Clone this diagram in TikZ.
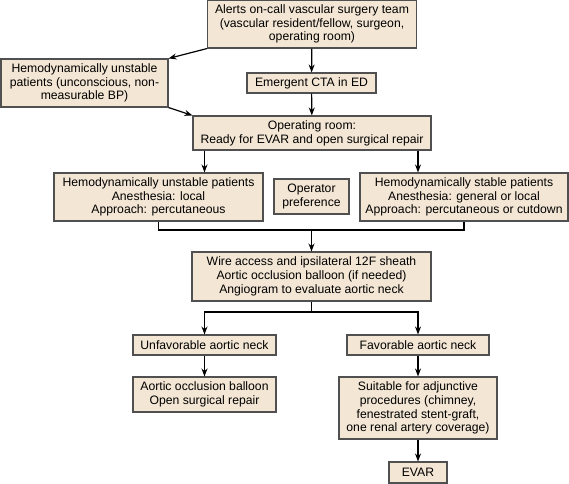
\documentclass[tikz,border=0pt]{standalone}
\usepackage{fontspec}
\setmainfont{Liberation Sans}
\usepackage{xcolor}
\usetikzlibrary{arrows.meta, positioning, calc}
\definecolor{boxfill}{RGB}{243,230,212}
\definecolor{boxline}{RGB}{80,80,80}

\begin{document}
\begin{tikzpicture}[x=1pt, y=-1pt,
    box/.style={draw=boxline, line width=1.1pt, fill=boxfill, align=center,
        inner sep=1pt, font=\fontsize{12.2}{13.7}\selectfont},
    arr/.style={-{Stealth[length=8pt, width=6pt]}, line width=1.2pt},
    link/.style={line width=1.2pt}]
    \useasboundingbox (0,0) rectangle (569,483);

    % Top of the chart
    \node[box, minimum width=209pt, minimum height=48pt] (alerts) at (312,24)
        {Alerts on-call vascular surgery team\\(vascular resident/fellow, surgeon,\\operating room)};
    \node[box, minimum width=167pt, minimum height=48pt] (unstable0) at (84.5,83)
        {Hemodynamically unstable\\patients (unconscious, non-\\measurable BP)};
    \node[box, minimum width=129pt, minimum height=20pt] (cta) at (311.5,83)
        {Emergent CTA in ED};
    \node[box, minimum width=238pt, minimum height=34pt] (oproom) at (312,133)
        {Operating room:\\Ready for EVAR and open surgical repair};

    % Patient groups
    \node[box, minimum width=209pt, minimum height=48pt] (unstable) at (158.5,197)
        {Hemodynamically unstable patients\\Anesthesia: local\\Approach: percutaneous};
    \node[box, minimum width=75pt, minimum height=35pt] (pref) at (311.5,196.5)
        {Operator\\preference};
    \node[box, minimum width=208pt, minimum height=48pt] (stable) at (464,197)
        {Hemodynamically stable patients\\Anesthesia: general or local\\Approach: percutaneous or cutdown};

    % Access and neck
    \node[box, minimum width=239pt, minimum height=49pt] (wire) at (311.5,276.5)
        {Wire access and ipsilateral 12F sheath\\Aortic occlusion balloon (if needed)\\Angiogram to evaluate aortic neck};
    \node[box, minimum width=143pt, minimum height=20pt] (unfav) at (204.5,345)
        {Unfavorable aortic neck};
    \node[box, minimum width=142pt, minimum height=20pt] (fav) at (418,345)
        {Favorable aortic neck};
    \node[box, minimum width=143pt, minimum height=35pt] (balloon) at (204.5,394.5)
        {Aortic occlusion balloon\\Open surgical repair};
    \node[box, minimum width=158pt, minimum height=62pt] (suitable) at (418,408)
        {Suitable for adjunctive\\procedures (chimney,\\fenestrated stent-graft,\\one renal artery coverage)};
    \node[box, minimum width=58pt, minimum height=21pt] (evar) at (418,472.5)
        {EVAR};

    % Join and split points
    \coordinate (merge) at (311.5,230);
    \coordinate (split) at (311.5,312);

    % Connectors
    \draw[arr] (alerts) -- (cta);
    \draw[arr] (cta) -- (oproom);
    \draw[arr] (alerts.south west) -- (unstable0.north east);
    \draw[arr] (unstable0.south east) -- (oproom.north west);
    \draw[arr] (oproom.south -| unfav.north) -- (unstable.north -| unfav.north);
    \draw[arr] (oproom.south -| fav.north) -- (stable.north -| fav.north);
    \draw[link] (unstable.south) |- (merge) -| (stable.south);
    \draw[arr] (merge) -- (wire);
    \draw[link] (wire) -- (split);
    \draw[arr] (split) -| (unfav);
    \draw[arr] (split) -| (fav);
    \draw[arr] (unfav) -- (balloon);
    \draw[arr] (fav) -- (suitable);
    \draw[arr] (suitable) -- (evar);
\end{tikzpicture}
\end{document}
